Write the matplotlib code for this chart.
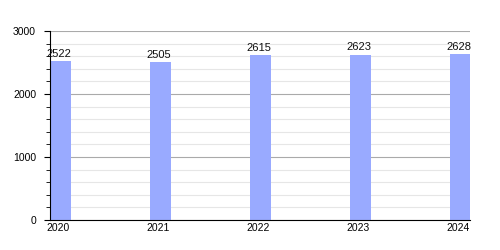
import matplotlib
matplotlib.use("Agg")
import matplotlib.pyplot as plt
from matplotlib.ticker import MultipleLocator

years = ["2020", "2021", "2022", "2023", "2024"]
values = [2522, 2505, 2615, 2623, 2628]

plt.rcParams['font.family'] = ['Liberation Sans', 'DejaVu Sans']
fig = plt.figure(figsize=(5, 2.5), dpi=100)
ax = fig.add_axes([0.1, 0.12, 0.84, 0.756])
x = list(range(len(years)))
ax.bar(x, values, width=0.21, align='edge', color='#99aaff', zorder=2)
for xi, v in zip(x, values):
    ax.text(xi + 0.09, v + 40, str(v), ha='center', va='bottom', fontsize=8, color='#111111', zorder=3)
ax.set_xlim(0, 4.2)
ax.set_ylim(0, 3000)
ax.set_xticks([xi + 0.08 for xi in x])
ax.set_xticklabels(years, fontsize=7.5)
ax.tick_params(axis='x', length=0, pad=2)
ax.yaxis.set_major_locator(MultipleLocator(1000))
ax.yaxis.set_minor_locator(MultipleLocator(200))
ax.tick_params(axis='y', which='major', labelsize=7.5, length=4, direction='out', pad=6)
ax.tick_params(axis='y', which='minor', length=3, direction='out')
ax.grid(axis='y', which='major', color='#aaaaaa', linewidth=0.8, zorder=0)
ax.grid(axis='y', which='minor', color='#e6e6e6', linewidth=0.8, zorder=0)
ax.spines['right'].set_visible(False)
ax.spines['top'].set_visible(False)
ax.spines['left'].set_color('black')
ax.spines['bottom'].set_color('black')
ax.set_axisbelow(True)
fig.savefig("out.png", dpi=100)
